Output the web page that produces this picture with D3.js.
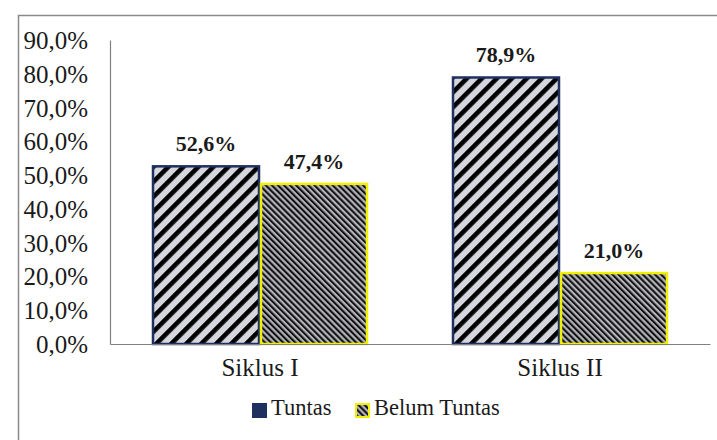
<!DOCTYPE html>
<html lang="id">
<head>
<meta charset="UTF-8">
<title>Ketuntasan Siklus</title>
<script src="https://d3js.org/d3.v7.min.js"></script>
<style>
    body { margin: 0; background: #fff; }
    svg text { font-family: "Liberation Serif", "Times New Roman", "DejaVu Serif", serif !important; fill: #1a1a1a; }
</style>
</head>
<body>
<script>
    var categories = ["Siklus I", "Siklus II"];
    var seriesNames = ["Tuntas", "Belum Tuntas"];
    var tuntas = [0.526, 0.789];
    var belumTuntas = [0.474, 0.210];
    var yTicks = [0, 0.1, 0.2, 0.3, 0.4, 0.5, 0.6, 0.7, 0.8, 0.9];

    var width = 717, height = 440;
    var margin = {left: 110, right: 7, top: 40, bottom: 96};
    var serif = "'Liberation Serif', 'Times New Roman', serif";

    var svg = d3.select("body").append("svg")
        .attr("width", width)
        .attr("height", height)
        .attr("font-family", serif);

    var defs = svg.append("defs");

    // wide upward diagonal for Tuntas
    var p1 = defs.append("pattern")
        .attr("id", "hatchWide")
        .attr("patternUnits", "userSpaceOnUse")
        .attr("width", 10.6).attr("height", 10.6)
        .attr("patternTransform", "rotate(45)");
    p1.append("rect").attr("width", 10.6).attr("height", 10.6).attr("fill", "#d6d6de");
    p1.append("rect").attr("width", 4.6).attr("height", 10.6).attr("fill", "#000");

    // narrow downward diagonal for Belum Tuntas
    var p2 = defs.append("pattern")
        .attr("id", "hatchNarrow")
        .attr("patternUnits", "userSpaceOnUse")
        .attr("width", 4.3).attr("height", 4.3)
        .attr("patternTransform", "rotate(-45)");
    p2.append("rect").attr("width", 4.3).attr("height", 4.3).attr("fill", "#b4b4bc");
    p2.append("rect").attr("width", 2.1).attr("height", 4.3).attr("fill", "#111");

    var fills = ["url(#hatchWide)", "url(#hatchNarrow)"];
    var strokes = ["#1f3060", "#f0f000"];

    // outer frame (top and left edges visible)
    svg.append("path")
        .attr("d", "M18.5," + height + "V15.5H" + width)
        .attr("fill", "none")
        .attr("stroke", "#8a8a8a")
        .attr("stroke-width", 1.5);

    var x = d3.scaleBand()
        .domain(categories)
        .range([margin.left, width - margin.right])
        .paddingInner(0.28)
        .paddingOuter(0.14);

    var x1 = d3.scaleBand()
        .domain(seriesNames)
        .range([0, x.bandwidth()]);

    var y = d3.scaleLinear()
        .domain([0, 0.9])
        .range([height - margin.bottom, margin.top]);

    var locale = d3.formatLocale({decimal: ",", thousands: ".", grouping: [3], currency: ["Rp", ""]});
    var fmt = locale.format(".1%");

    // y axis
    var yAxis = svg.append("g")
        .attr("transform", "translate(" + margin.left + ",0)")
        .call(d3.axisLeft(y).tickValues(yTicks).tickFormat(fmt).tickSize(0).tickPadding(22));
    yAxis.attr("font-family", serif);
    yAxis.select(".domain").attr("stroke", "#808080").attr("stroke-width", 1.2);
    yAxis.selectAll("text")
        .attr("font-size", 25)
        .attr("dy", "0.34em");

    // bars
    var rows = categories.map(function (c, i) {
        return {cat: c, values: [tuntas[i], belumTuntas[i]]};
    });

    var groups = svg.selectAll(".grp")
        .data(rows)
        .enter().append("g")
        .attr("class", "grp")
        .attr("transform", function (d) { return "translate(" + x(d.cat) + ",0)"; });

    groups.selectAll("rect")
        .data(function (d) { return d.values.map(function (v, k) { return {k: k, v: v}; }); })
        .enter().append("rect")
        .attr("x", function (d) { return x1(seriesNames[d.k]) + 1; })
        .attr("width", x1.bandwidth() - 2)
        .attr("y", function (d) { return y(d.v); })
        .attr("height", function (d) { return y(0) - y(d.v); })
        .attr("fill", function (d) { return fills[d.k]; })
        .attr("stroke", function (d) { return strokes[d.k]; })
        .attr("stroke-width", 2.5);

    groups.selectAll(".lbl")
        .data(function (d) { return d.values.map(function (v, k) { return {k: k, v: v}; }); })
        .enter().append("text")
        .attr("class", "lbl")
        .attr("x", function (d) { return x1(seriesNames[d.k]) + x1.bandwidth() / 2; })
        .attr("y", function (d) { return y(d.v) - 15; })
        .attr("text-anchor", "middle")
        .attr("font-size", 22)
        .attr("font-weight", "bold")
        .text(function (d) { return fmt(d.v); });

    // x axis
    var xAxis = svg.append("g")
        .attr("transform", "translate(0," + y(0) + ")")
        .call(d3.axisBottom(x).tickSize(0).tickPadding(14));
    xAxis.attr("font-family", serif);
    xAxis.select(".domain").attr("stroke", "#808080").attr("stroke-width", 1.2);
    xAxis.selectAll("text")
        .attr("font-size", 25)
        .attr("dy", "0.71em");

    // legend
    var legendX = [253, 356];
    var legend = svg.selectAll(".leg")
        .data(seriesNames)
        .enter().append("g")
        .attr("class", "leg")
        .attr("transform", function (d, i) { return "translate(" + legendX[i] + ",404)"; });

    legend.append("rect")
        .attr("width", 13).attr("height", 13)
        .attr("fill", function (d, i) { return i === 0 ? "#1f3060" : fills[1]; })
        .attr("stroke", function (d, i) { return strokes[i]; })
        .attr("stroke-width", 2);

    legend.append("text")
        .attr("x", 18)
        .attr("y", 11)
        .attr("font-size", 22.5)
        .text(function (d) { return d; });
</script>
</body>
</html>
